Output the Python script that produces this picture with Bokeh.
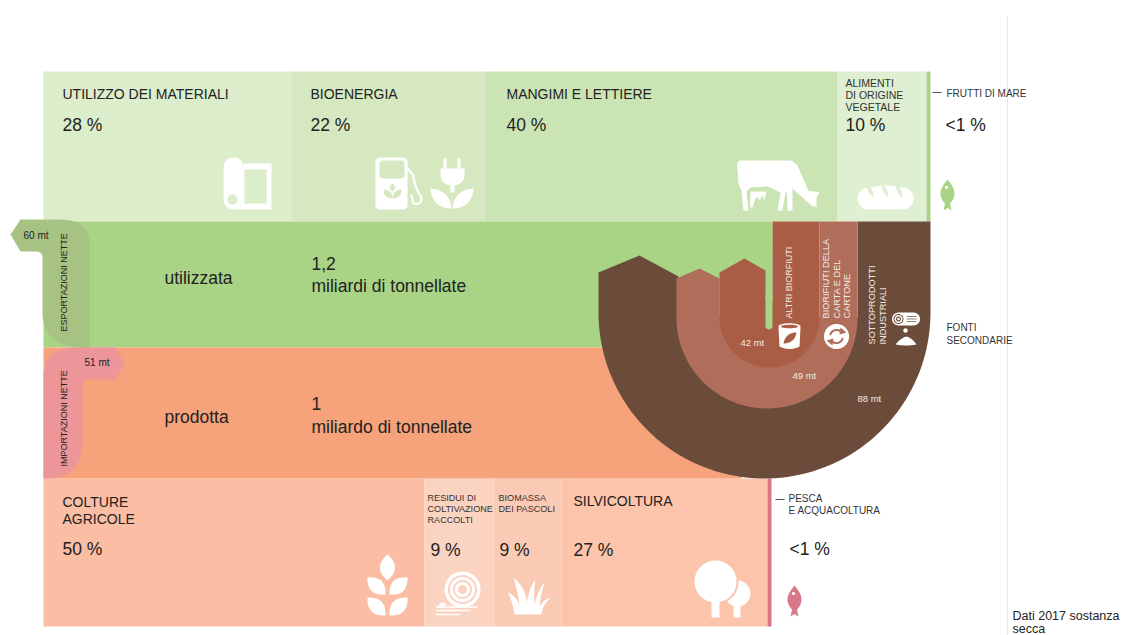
import numpy as np
from bokeh.core.properties import value
from bokeh.embed import file_html
from bokeh.models import Range1d
from bokeh.plotting import figure
from bokeh.resources import INLINE

# Shares of the uses (top row) and of the sources (bottom row), in percent
use_names = ["UTILIZZO DEI MATERIALI", "BIOENERGIA", "MANGIMI E LETTIERE", "ALIMENTI DI ORIGINE VEGETALE", "FRUTTI DI MARE"]
use_shares = [28, 22, 40, 10, 0.5]
use_labels = ["28 %", "22 %", "40 %", "10 %", "<1 %"]
source_names = ["COLTURE AGRICOLE", "RESIDUI DI COLTIVAZIONE RACCOLTI", "BIOMASSA DEI PASCOLI", "SILVICOLTURA", "PESCA E ACQUACOLTURA"]
source_shares = [50, 9, 9, 27, 0.6]
source_labels = ["50 %", "9 %", "9 %", "27 %", "<1 %"]
# Flows in million tonnes
trade_flows = {"esportazioni": 60, "importazioni": 51}
secondary_flows = {"altri": 42, "carta": 49, "sottoprodotti": 88}

USE_COLORS = ["#dcedcc", "#d5e8c0", "#cbe4b3", "#deefd2", "#a9d485"]
SOURCE_COLORS = ["#fbbda3", "#fbd3c1", "#fbcab5", "#fbc4ab", "#d97886"]
GREEN, ORANGE = "#a9d485", "#f6a27a"
DARK, MID, INNER = "#6b4c3b", "#b06e5a", "#aa5d45"
EXPORT, IMPORT = "#a7c383", "#ec9699"
FONT = "Liberation Sans"
INK = "#222222"
SOFT = "#333333"

p = figure(width=1132, height=635, output_backend="svg", toolbar_location=None,
           x_range=Range1d(0, 1132), y_range=Range1d(635, 0),
           min_border=0, outline_line_color=None, background_fill_color="white")
p.axis.visible = False
p.grid.visible = False


def q(a, c, b, n=14):
    """Quadratic curve from a to b around control point c."""
    t = np.linspace(0, 1, n)[:, None]
    a, c, b = map(np.array, (a, c, b))
    return [tuple(v) for v in (1 - t) ** 2 * a + 2 * t * (1 - t) * c + t ** 2 * b]


def arc(cx, cy, r, a0, a1, n=80, ry=None):
    """Arc points; angles in degrees, clockwise on screen because y points down."""
    ang = np.radians(np.linspace(a0, a1, n))
    ry = r if ry is None else ry
    return list(zip(cx + r * np.cos(ang), cy + ry * np.sin(ang)))


def shape(points, color):
    xs, ys = zip(*points)
    p.patch(list(xs), list(ys), fill_color=color, line_color=None)


def box(x0, y0, x1, y1, color):
    p.quad(left=[x0], right=[x1], top=[y0], bottom=[y1], fill_color=color, line_color=None)


def disc(cx, cy, r, color, ry=None):
    shape(arc(cx, cy, r, 0, 360, 60, ry), color)


def leaf(a, b, width, color):
    """Lens shape between two tips."""
    a, b = np.array(a, float), np.array(b, float)
    mid = (a + b) / 2
    d = b - a
    nrm = np.array([-d[1], d[0]]) / np.hypot(*d)
    shape(q(a, mid + nrm * width, b) + q(b, mid - nrm * width, a), color)


def stroke(points, color, w):
    xs, ys = zip(*points)
    p.line(list(xs), list(ys), line_color=color, line_width=w, line_cap="round", line_join="round")


def label(x, y, s, size, color=INK, angle=0):
    p.text(x=[x], y=[y], text=[s], text_font=value(FONT), text_font_size=f"{size}px",
           text_color=color, text_align="left", text_baseline="middle", angle=angle)


# Proportional cells of the top and bottom rows
LEFT = 43
USE_SCALE = 887 / sum(use_shares)
SOURCE_SCALE = 7.62
use_edges = np.round(LEFT + np.concatenate([[0], np.cumsum(use_shares)]) * USE_SCALE)
src_edges = np.round(LEFT + np.concatenate([[0], np.cumsum(source_shares)]) * SOURCE_SCALE)
for i, c in enumerate(USE_COLORS):
    box(use_edges[i], 71, use_edges[i + 1], 221, c)
for i, c in enumerate(SOURCE_COLORS):
    box(src_edges[i], 478, src_edges[i + 1], 626, c)

# Central bands
box(LEFT, 221, 772, 347, GREEN)
box(LEFT, 347, src_edges[-1] - 30, 478, ORANGE)

# Export and import arrows
shape([(10, 234), (20, 219), (58, 219)] + q((58, 219), (89, 219), (89, 243))
      + [(89, 347), (80, 347)] + q((80, 347), (42, 345), (42, 312))
      + [(42, 257)] + q((42, 257), (42, 251), (35, 251)) + [(20, 251)], EXPORT)
shape([(43, 478), (43, 376)] + q((43, 376), (43, 347), (76, 347))
      + [(115, 347), (124, 363), (115, 379), (89, 379)] + q((89, 379), (82, 379), (82, 386))
      + [(82, 445)] + q((82, 445), (80, 476), (50, 478)), IMPORT)

# Secondary sources: nested U-shaped ribbons, drawn from the outside in
shape([(930, 221)] + arc(764, 312, 166, 0, 180)
      + [(598, 272), (639, 255), (678, 276), (678, 317), (857, 317), (857, 221)], DARK)
shape([(857, 221)] + arc(766.5, 317.5, 90.5, 0, 180)
      + [(676, 278), (699, 268), (719, 278), (719, 317), (819, 317), (819, 221)], MID)
shape([(819, 221)] + arc(769, 317, 50, 0, 180)
      + [(719, 272), (744, 258), (765, 270), (765, 300), (772, 300), (772, 221)], INNER)
shape([(765, 295), (772, 295)] + arc(768.5, 325.5, 3.5, 0, 180, 16), GREEN)

# Leader dashes and the page rule
p.line([932, 941], [92, 92], line_color="#555555", line_width=1)
p.line([775, 784], [499, 499], line_color="#555555", line_width=1)
p.line([1007, 1007], [15, 635], line_color="#e8e8e8", line_width=1)

W = "white"
# Material use: roll of board
bg = USE_COLORS[0]
shape(arc(233, 167, 10, 180, 360, 16) + [(243, 163), (271, 163), (271, 209), (233, 209)]
      + arc(233, 199, 10, 90, 180, 10) + [(223, 167)], W)
box(244, 169, 266, 203, bg)
disc(232, 199, 5, bg)

# Bioenergy: fuel pump and plug-plant
bg = USE_COLORS[1]
shape([(378, 157), (404, 157), (407, 160), (407, 206), (404, 209), (378, 209), (375, 206), (375, 160)], W)
shape([(381, 160), (402, 160), (404, 162), (404, 176), (402, 178), (381, 178), (379, 176), (379, 162)], bg)
leaf((392, 198), (383, 189), 6, bg)
leaf((392, 198), (401, 189), 6, bg)
leaf((392, 191), (392, 183), 5, bg)
stroke([(407, 168), (413, 175)] + q((413, 178), (416, 190), (421, 197)) + q((421, 197), (421, 205), (413, 203))
       + [(411, 195)], W, 2.2)
box(443, 158, 446, 169, W)
box(457, 158, 460, 169, W)
shape([(440, 168), (464, 168), (464, 176)] + q((464, 176), (463, 183), (454, 185)) + [(454, 192), (450, 192), (450, 185)]
      + q((450, 185), (441, 183), (440, 176)), W)
shape([(430, 188)] + q((430, 188), (450, 190), (451, 208)) + q((451, 208), (432, 208), (430, 188)), W)
shape([(473, 188)] + q((473, 188), (453, 190), (452, 208)) + q((452, 208), (471, 208), (473, 188)), W)

# Feed: grazing cow
bg = USE_COLORS[2]
shape([(736.5, 163), (739, 160), (791, 160), (797, 165), (808, 190.5), (819, 191.5), (816, 197), (816, 206),
       (812, 206), (792, 188), (792, 210), (787, 210), (786.5, 192), (785, 192), (782, 210), (777, 210),
       (780, 192), (767, 186), (750, 187), (746, 191), (748, 210), (743, 210), (741, 190), (738, 183)], W)
shape([(750, 191), (766, 191), (765, 195), (764, 199), (763, 199), (763, 196), (761, 196), (760, 199), (758, 199),
       (757, 196), (755, 198), (752, 207), (749.5, 207)], W)

# Plant food: loaf of bread
bg = USE_COLORS[3]
shape(arc(868, 198, 11, 90, 270, 20) + arc(902, 198, 11, -90, 90, 20), W)
shape(arc(885, 198, 28, 180, 360, 30, 13) + [(885, 209)], W)
for x in (869, 884, 898):
    leaf((x - 3, 183), (x + 4, 197), 4, bg)


def fish(cx, cy, color):
    shape([(cx, cy - 15), (cx - 1.5, cy - 13)] + q((cx - 1.5, cy - 13), (cx - 12, cy - 1), (cx - 2.5, cy + 9))
          + [(cx - 4, cy + 16), (cx, cy + 13.5), (cx + 4, cy + 16), (cx + 2.5, cy + 9)]
          + q((cx + 2.5, cy + 9), (cx + 12, cy - 1), (cx + 1.5, cy - 13)), color)
    disc(cx - 1, cy - 7, 1.6, "white")


fish(947, 194, GREEN)
fish(794, 600, SOURCE_COLORS[4])

# Crops: ear of wheat
leaf((387, 554), (387, 580), 15, W)
leaf((367, 577), (385, 594), 14, W)
leaf((407, 577), (389, 594), 14, W)
leaf((367, 597), (385, 615), 14, W)
leaf((407, 597), (389, 615), 14, W)

# Residues: hay bale
disc(462, 589, 18, W)
for r, c in ((14.5, SOURCE_COLORS[1]), (12.5, W), (9.5, SOURCE_COLORS[1]), (7.5, W), (4.5, SOURCE_COLORS[1])):
    disc(462, 589, r, c)
for y, x1 in ((606.5, 477), (610, 470), (614, 460)):
    p.line([435.5, x1], [y, y], line_color=W, line_width=1.5)
leaf((438, 605), (446, 604), 5, W)

# Pasture: tuft of grass
shape([(514, 614)] + q((514, 614), (512, 600), (507, 592)) + q((507, 592), (514, 594), (519, 604))
      + q((519, 604), (517, 590), (513, 577)) + q((513, 577), (528, 590), (526, 606))
      + q((526, 606), (527, 590), (535, 579)) + q((535, 579), (533, 592), (534, 604))
      + q((534, 604), (537, 590), (544, 582)) + q((544, 582), (540, 596), (539, 606))
      + q((539, 606), (544, 598), (551, 597)) + q((551, 597), (543, 602), (541, 614)), W)

# Forestry: two trees
bg = SOURCE_COLORS[3]
disc(737, 593, 13, W)
box(733, 600, 740, 617, W)
disc(715, 581, 23, bg)
disc(715, 581, 21, W)
box(711, 598, 719, 617, W)

# Icons on the secondary ribbons: tin with a leaf, recycling disc, log and chip pile
shape([(778, 327), (800, 327), (799, 346)] + q((799, 346), (789, 351), (779, 346)), W)
disc(789, 326, 11, W, ry=3.2)
disc(789, 326, 8.5, INNER, ry=1.8)
leaf((783, 343), (796, 332), 7, INNER)
disc(836, 336, 12.5, W)
stroke(arc(836, 336, 6.5, 200, 320, 12), MID, 2)
stroke(arc(836, 336, 6.5, 20, 140, 12), MID, 2)
shape([(840, 327), (846, 332), (839, 334)], MID)
shape([(832, 345), (826, 340), (833, 338)], MID)
shape(arc(898, 318.5, 6.5, 90, 270, 14) + arc(913, 318.5, 6.5, -90, 90, 14), W)
for r, c in ((5, DARK), (4, W), (2.5, DARK), (1.3, W)):
    disc(898, 318.5, r, c)
for y, x0 in ((316, 906), (318.5, 906), (321, 906)):
    p.line([x0, 916], [y, y], line_color=DARK, line_width=0.7)
disc(905, 330, 2.2, W)
shape([(895, 344)] + q((895, 344), (901, 337), (906, 336)) + q((906, 336), (911, 337), (916, 344))
      + q((916, 344), (906, 346), (895, 344)), W)

# Top row texts
label(62, 93, use_names[0], 14)
label(62, 124, use_labels[0], 17.5)
label(310, 93, use_names[1], 14)
label(310, 124, use_labels[1], 17.5)
label(506, 93, use_names[2], 14)
label(506, 124, use_labels[2], 17.5)
for y, s in zip((82, 94, 106), ("ALIMENTI", "DI ORIGINE", "VEGETALE")):
    label(845, y, s, 10.5, SOFT)
label(845, 124, use_labels[3], 17.5)
label(946, 93, "FRUTTI  DI MARE", 10, SOFT)
label(945, 124, use_labels[4], 17.5)

# Central band texts
label(164, 277, "utilizzata", 17.5)
label(311, 263, "1,2", 17.5)
label(311, 285, "miliardi di tonnellate", 17.5)
label(164, 416, "prodotta", 17.5)
label(311, 403, "1", 17.5)
label(311, 426, "miliardo di tonnellate", 17.5)
label(23, 234.5, f"{trade_flows['esportazioni']} mt", 10)
label(84, 362, f"{trade_flows['importazioni']} mt", 10)
label(63, 331, "ESPORTAZIONI  NETTE", 9, INK, np.pi / 2)
label(63, 466, "IMPORTAZIONI  NETTE", 9, INK, np.pi / 2)

# Ribbon texts
LIGHT = "#f3e9e4"
label(740, 342, f"{secondary_flows['altri']} mt", 9.5, LIGHT)
label(792, 375, f"{secondary_flows['carta']} mt", 9.5, LIGHT)
label(857, 398, f"{secondary_flows['sottoprodotti']} mt", 9.5, LIGHT)
label(788, 318, "ALTRI BIORFIUTI", 9, LIGHT, np.pi / 2)
label(825, 318, "BIORIFIUTI  DELLA", 9.2, LIGHT, np.pi / 2)
label(836, 318, "CARTA E DEL", 9.2, LIGHT, np.pi / 2)
label(846, 318, "CARTONE", 9.2, LIGHT, np.pi / 2)
label(871, 344, "SOTTOPRODOTTI", 9.2, LIGHT, np.pi / 2)
label(882, 344, "INDUSTRIALI", 9.2, LIGHT, np.pi / 2)
label(946, 327, "FONTI", 10, SOFT)
label(946, 340, "SECONDARIE", 10, SOFT)

# Bottom row texts
label(62, 501, "COLTURE", 14)
label(62, 518, "AGRICOLE", 14)
label(62, 548, source_labels[0], 17.5)
for y, s in zip((497, 508, 519), ("RESIDUI DI", "COLTIVAZIONE", "RACCOLTI")):
    label(427, y, s, 9.1, SOFT)
label(430, 549, source_labels[1], 17.5)
for y, s in zip((497, 508), ("BIOMASSA", "DEI PASCOLI")):
    label(498, y, s, 9.1, SOFT)
label(499, 549, source_labels[2], 17.5)
label(573, 500, "SILVICOLTURA", 14)
label(573, 549, source_labels[3], 17.5)
label(788, 498, "PESCA", 10, SOFT)
label(788, 510, "E ACQUACOLTURA", 10, SOFT)
label(789, 548, source_labels[4], 17.5)
label(1012, 615, "Dati 2017 sostanza", 12.5)
label(1012, 628.5, "secca", 12.5)

open("out.html", "w").write(file_html(p, INLINE))
